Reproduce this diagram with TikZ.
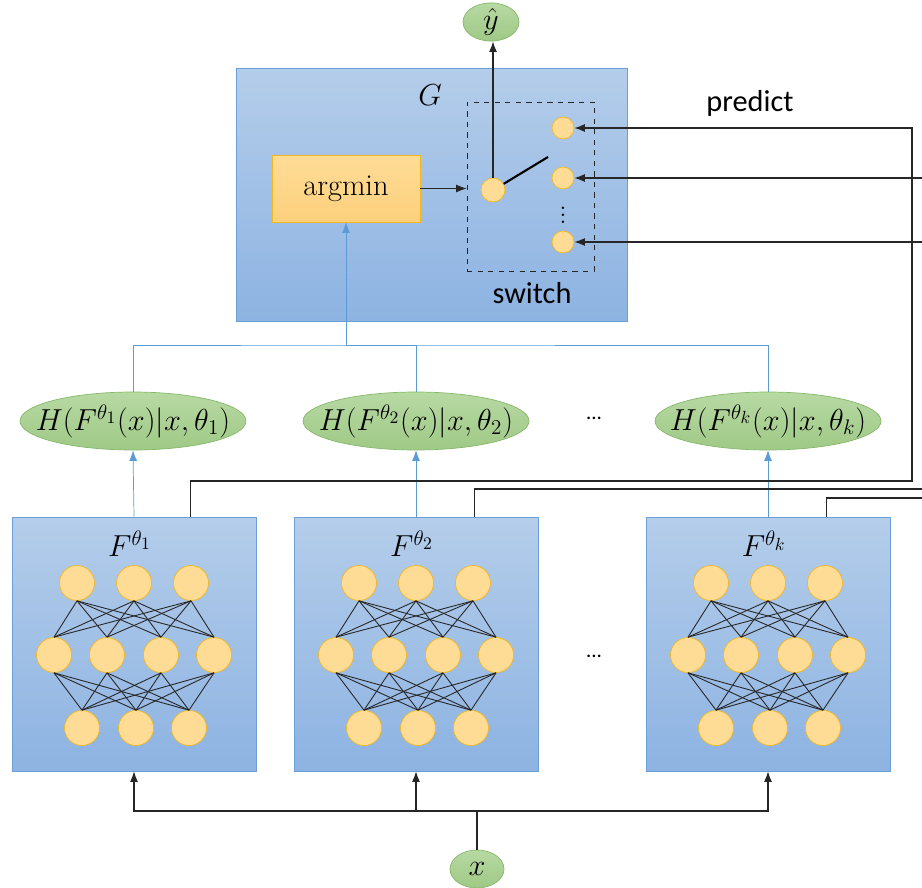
\documentclass[tikz,border=0pt]{standalone}
\usepackage{amsmath}
\usepackage{fontspec}
\newfontfamily\calibri{Carlito}
\usepackage{tikz}
\usetikzlibrary{positioning,calc,shapes.geometric,arrows.meta}

\definecolor{blueTop}{HTML}{B4CDEA}
\definecolor{blueBot}{HTML}{8DB3E2}
\definecolor{blueLine}{HTML}{6C9FD8}
\definecolor{wire}{HTML}{5B9BD5}
\definecolor{orTop}{HTML}{FFDC96}
\definecolor{orBot}{HTML}{FCD07C}
\definecolor{gold}{HTML}{F2B81E}
\definecolor{greenTop}{HTML}{B7D9A3}
\definecolor{greenBot}{HTML}{9FC986}
\definecolor{greenLine}{HTML}{86B86A}

\tikzset{
    bluebox/.style = {draw=blueLine, top color=blueTop, bottom color=blueBot, inner sep=0pt},
    greenoval/.style = {ellipse, draw=greenLine, top color=greenTop, bottom color=greenBot, inner sep=0pt},
    neuron/.style = {circle, draw=gold, fill=orTop, minimum size=0.7cm, inner sep=0pt},
    swdot/.style = {circle, draw=gold, fill=orTop, inner sep=0pt},
    edge/.style = {black!85, line width=0.5pt},
    link/.style = {black!85, line width=0.6pt},
    sans/.style = {font=\calibri\LARGE},
    dotsnote/.style = {font=\calibri\large},
}

\begin{document}
\begin{tikzpicture}[x=0.02cm, y=-0.02cm, >={Latex[length=6pt,width=4.5pt]}, font=\LARGE]
    \useasboundingbox (0,0) rectangle (922,888);
    % G block with argmin and switch
    \node[bluebox, minimum width=7.82cm, minimum height=5.06cm] (G) at (431.5,194.5) {};
    \node (Glabel) at (430,95) {$G$};
    \node[draw=gold, top color=orTop, bottom color=orBot, minimum width=2.96cm, minimum height=1.34cm] (argmin) at (346,188.5) {argmin};
    \node[draw, dashed, black!85, minimum width=2.54cm, minimum height=3.38cm] (sw) at (530.5,186.5) {};
    \node[sans] (swlabel) at (532,293) {switch};
    \node[swdot, minimum size=0.48cm] (D0) at (493,190) {};
    \node[swdot, minimum size=0.44cm] (D1) at (563,128) {};
    \node[swdot, minimum size=0.44cm] (D2) at (563,178) {};
    \node[swdot, minimum size=0.44cm] (D3) at (563,242) {};
    \node[font=\Large\boldmath, inner sep=0pt] (vdots) at (563,210) {$\vdots$};
    \coordinate (lever) at (548,157);
    \draw[black, line width=1.2pt] (D0.30) -- (lever);
    \node[greenoval, minimum width=1.12cm, minimum height=0.74cm] (yhat) at (491,22) {$\hat{y}$};
    \draw[link, ->] (D0.north) -- (D0.north |- yhat.south);
    \draw[link, ->] (argmin.east) -- (sw.west |- argmin.east);
    \node[sans] (predict) at (750,103) {predict};

    % H ellipses
    \node[greenoval, minimum width=4.52cm, minimum height=1.16cm, label=center:{$H(F^{\theta_1}(x)|x,\theta_1)$}] (H1) at (133,421) {};
    \node[greenoval, minimum width=4.52cm, minimum height=1.16cm, label=center:{$H(F^{\theta_2}(x)|x,\theta_2)$}] (H2) at (416,421) {};
    \node[greenoval, minimum width=4.52cm, minimum height=1.16cm, label=center:{$H(F^{\theta_k}(x)|x,\theta_k)$}] (Hk) at (768,421) {};
    \node[dotsnote] (hdots) at (594,418) {...};
    \coordinate (B) at (346,345);
    \draw[wire] (H1.north) |- (B) -| (Hk.north);
    \draw[wire] (H2.north) |- (B);
    \draw[wire, ->] (B) -- (argmin.south);

    % networks F
    \node[bluebox, minimum width=4.88cm, minimum height=5.08cm] (F1) at (134,644) {};
    \node[bluebox, minimum width=4.88cm, minimum height=5.08cm] (F2) at (416,644) {};
    \node[bluebox, minimum width=4.88cm, minimum height=5.08cm] (Fk) at (768,644) {};
    \node (F1label) at ($(F1.north)+(-4,27)$) {$F^{\theta_1}$};
    \node (F2label) at ($(F2.north)+(-4,27)$) {$F^{\theta_2}$};
    \node (Fklabel) at ($(Fk.north)+(-4,27)$) {$F^{\theta_k}$};
    \node[dotsnote] (fdots) at (594,656) {...};
    \foreach \n/\c in {1/134, 2/416, k/768} {
        \foreach \i/\dx in {1/-57, 2/0, 3/57}
            \node[neuron] (T\n\i) at (\c+\dx,583) {};
        \foreach \j/\dx in {1/-80, 2/-27, 3/27, 4/80}
            \node[neuron] (M\n\j) at (\c+\dx,655) {};
        \foreach \i/\dx in {1/-52, 2/2, 3/55}
            \node[neuron] (L\n\i) at (\c+\dx,728) {};
        \foreach \i in {1,2,3}
            \foreach \j in {1,2,3,4} {
                \draw[edge] (T\n\i.south) -- (M\n\j.north);
                \draw[edge] (M\n\j.south) -- (L\n\i.north);
            }
    }
    \draw[wire, ->] (F1.north) -- (H1.south);
    \draw[wire, ->] (F2.north) -- (H2.south);
    \draw[wire, ->] (Fk.north) -- (Hk.south);

    % predict wiring
    \coordinate (R1) at (912,481);
    \coordinate (R2) at (922,489);
    \coordinate (R3) at (922,498);
    \coordinate (S2) at (922,178);
    \coordinate (S3) at (922,242);
    \draw[link, ->] ($(F1.north east)+(-66,0)$) |- (R1) |- (D1.east);
    \draw[link] ($(F2.north east)+(-64,0)$) |- (R2);
    \draw[link] ($(Fk.north east)+(-64,0)$) |- (R3);
    \draw[link, ->] (S2) -- (D2.east);
    \draw[link, ->] (S3) -- (D3.east);

    % input x
    \node[greenoval, minimum width=1.08cm, minimum height=0.76cm] (x) at (477,869) {$x$};
    \coordinate (XB) at (477,811);
    \draw[link] (x.north) -- (XB);
    \draw[link, ->] (XB) -| (F1.south);
    \draw[link, ->] (XB) -| (Fk.south);
    \draw[link, ->] (F2.south |- XB) -- (F2.south);
\end{tikzpicture}
\end{document}
